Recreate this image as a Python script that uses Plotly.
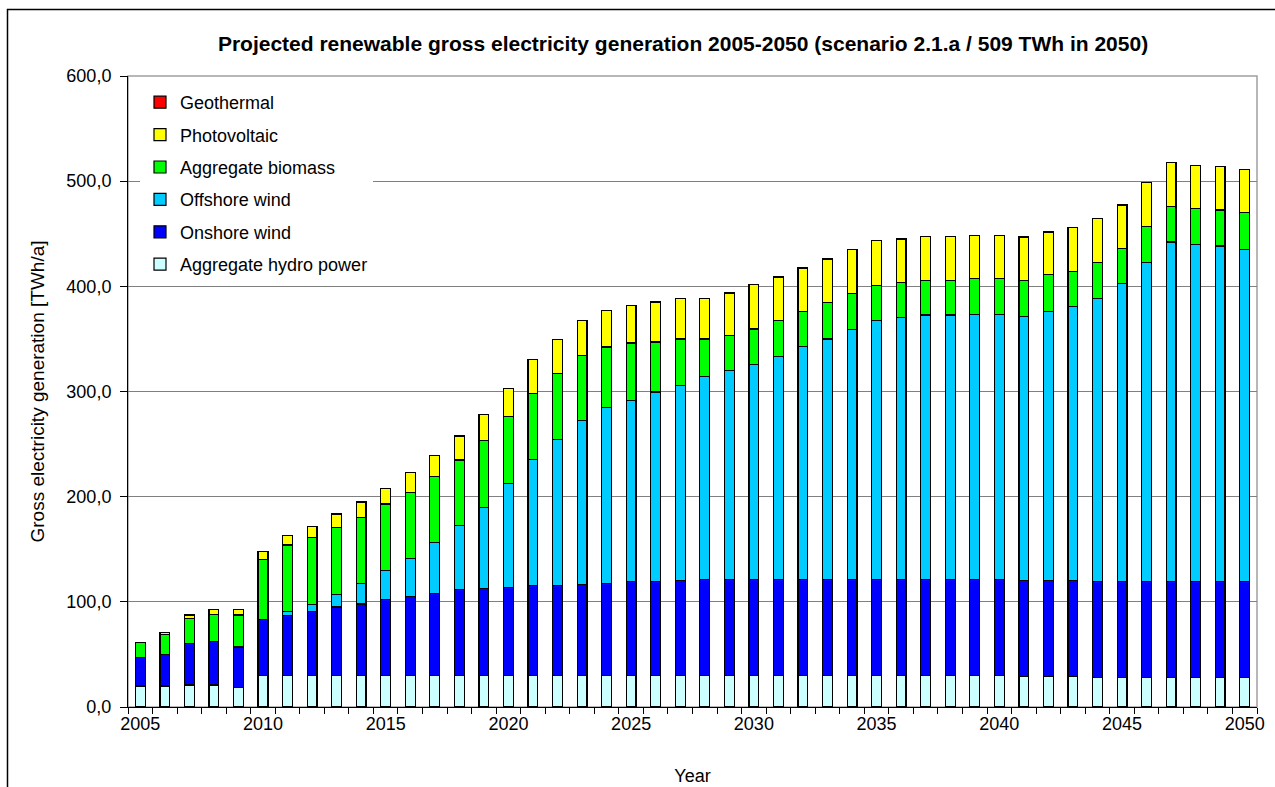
import plotly.graph_objects as go

years = list(range(2005, 2051))

hydro = [20, 20, 21, 21, 18.5, 30, 30, 30, 30, 30,
         30, 30, 30, 30, 30, 30, 30, 30, 30, 30,
         30, 30, 30, 30, 30, 30, 30, 30, 30, 30,
         30, 30, 30, 30, 29.8, 29.8, 29.1, 29.1, 29.1, 28,
         28, 28, 28, 28, 28, 28]
onshore = [27, 30, 39.5, 41, 38.5, 53, 57, 61, 65, 68,
           72.5, 75, 77.6, 81.4, 82.7, 84, 85.2, 85.2, 86.5, 87.7,
           89, 89.6, 90.3, 91.5, 91.5, 91.5, 91.5, 91.5, 91.5, 91.5,
           91.5, 91.5, 91.5, 91.5, 91.4, 91.4, 91.1, 91.1, 91.1, 91.5,
           91.5, 91.5, 91.5, 91.5, 91.5, 91.5]
offshore = [0, 0, 0, 0, 0, 0, 4, 6.5, 12, 19.5,
            27.5, 36.5, 48.7, 61.4, 77.2, 98.8, 120.2, 139.2, 155.7, 167,
            172.8, 180, 185.4, 192.4, 198.8, 204.5, 212, 221, 228.5, 237.4,
            246.2, 248.8, 251.3, 251.3, 252.1, 252.1, 251.4, 255.5, 260.6, 269.2,
            282.9, 303.5, 322.6, 320.2, 318.9, 315.8]
biomass = [14, 19, 23.5, 26, 30.5, 57, 63, 63.5, 63.5, 63,
           63, 62.3, 62.7, 62, 63.3, 63.3, 62.6, 62.6, 61.7, 57.6,
           54.4, 47.5, 44.3, 36, 33.2, 33.5, 34.2, 33.9, 35, 34,
           33.3, 33.2, 33, 33, 34.2, 34.2, 34.2, 35.3, 33.6, 34.3,
           33.9, 34.2, 33.9, 34.3, 34.2, 34.9]
photovoltaic = [0.5, 1.5, 3.5, 4.5, 5, 8, 9, 11, 13, 14.5,
                15, 19, 20, 22.8, 25, 26.8, 32.7, 32.4, 33.5, 34.8,
                35.8, 38, 38.3, 38.3, 40.2, 42, 41.2, 41, 41, 41.8,
                42.7, 41.5, 41.8, 41.8, 40.8, 40.8, 41.1, 40.7, 41.8, 41.7,
                41.1, 41.4, 41.5, 41, 41.1, 41.1]
geothermal = [0] * 46

series_names = ["Aggregate hydro power", "Onshore wind", "Offshore wind",
                "Aggregate biomass", "Photovoltaic", "Geothermal"]
series_values = [hydro, onshore, offshore, biomass, photovoltaic, geothermal]
series_colors = ["#CCFFFF", "#0000FF", "#00CCFF", "#00FF00", "#FFFF00", "#FF0000"]

x_tick_labels = [str(y) for y in range(2005, 2051, 5)]

FONT = "Liberation Sans, Arial, sans-serif"

fig = go.Figure()
n = len(series_names)
for i, (name, vals, col) in enumerate(zip(series_names, series_values, series_colors)):
    fig.add_trace(go.Bar(
        x=years, y=vals, name=name, width=0.4,
        marker=dict(color=col, line=dict(color="#000000", width=1.2)),
        legendgroup=name,
        legendrank=(n - i) * 10,
    ))

W, H = 1275, 787
L, R, T, B = 128, 1257, 76, 707

def px_to_paper_x(px):
    return (px - L) / (R - L)

def px_to_paper_y(py):
    return (B - py) / (B - T)

fig.update_layout(
    width=W, height=H,
    margin=dict(l=L, r=W - R, t=T, b=H - B, pad=0, autoexpand=False),
    barmode="stack",
    paper_bgcolor="white",
    plot_bgcolor="white",
    separators=", ",
    font=dict(family=FONT, size=18, color="#000000"),
    title=dict(
        text="<b>Projected renewable gross electricity generation 2005-2050 (scenario 2.1.a / 509 TWh in 2050)</b>",
        x=px_to_paper_x(683), xref="paper", xanchor="center",
        y=1 - 44 / H, yref="container", yanchor="middle",
        font=dict(family=FONT, size=21, color="#000000"),
    ),
    showlegend=True,
    legend=dict(
        x=px_to_paper_x(140), y=px_to_paper_y(84), xanchor="left", yanchor="top",
        bgcolor="white", borderwidth=0,
        traceorder="grouped",
        tracegroupgap=6,
        font=dict(family=FONT, size=18, color="#000000"),
        itemwidth=30,
    ),
    xaxis=dict(
        range=[2004.5, 2050.5],
        tickmode="array",
        tickvals=[int(t) for t in x_tick_labels],
        ticktext=x_tick_labels,
        ticks="",
        showgrid=False,
        showline=True, linecolor="#000000", linewidth=1,
        tickfont=dict(family=FONT, size=18, color="#000000"),
        title=dict(text="Year", font=dict(family=FONT, size=18, color="#000000"), standoff=36),
        minor=dict(tickmode="linear", tick0=2004.5, dtick=1, ticks="outside",
                   ticklen=6, tickcolor="#000000", tickwidth=1, showgrid=False),
        zeroline=False,
    ),
    yaxis=dict(
        range=[0, 600],
        dtick=100,
        tickformat=".1f",
        ticks="outside", ticklen=7, tickcolor="#000000",
        ticklabelstandoff=5,
        showgrid=True, gridcolor="#808080", gridwidth=1,
        showline=True, linecolor="#000000", linewidth=1,
        tickfont=dict(family=FONT, size=18, color="#000000"),
        title=dict(text="Gross electricity generation [TWh/a]",
                   font=dict(family=FONT, size=19, color="#000000"), standoff=16),
        zeroline=False,
    ),
    shapes=[
        dict(type="rect", xref="paper", yref="paper", x0=0, x1=1, y0=0, y1=1,
             line=dict(color="#A0A0A0", width=1.5), layer="below"),
        dict(type="rect", xref="paper", yref="paper",
             x0=px_to_paper_x(7.5), x1=px_to_paper_x(1290),
             y0=px_to_paper_y(800), y1=px_to_paper_y(9.5),
             line=dict(color="#000000", width=1.5), layer="above"),
    ],
)

fig.write_html("out.html", config={"displayModeBar": False},
               post_script="document.body.style.margin='0';document.body.style.overflow='hidden';")
